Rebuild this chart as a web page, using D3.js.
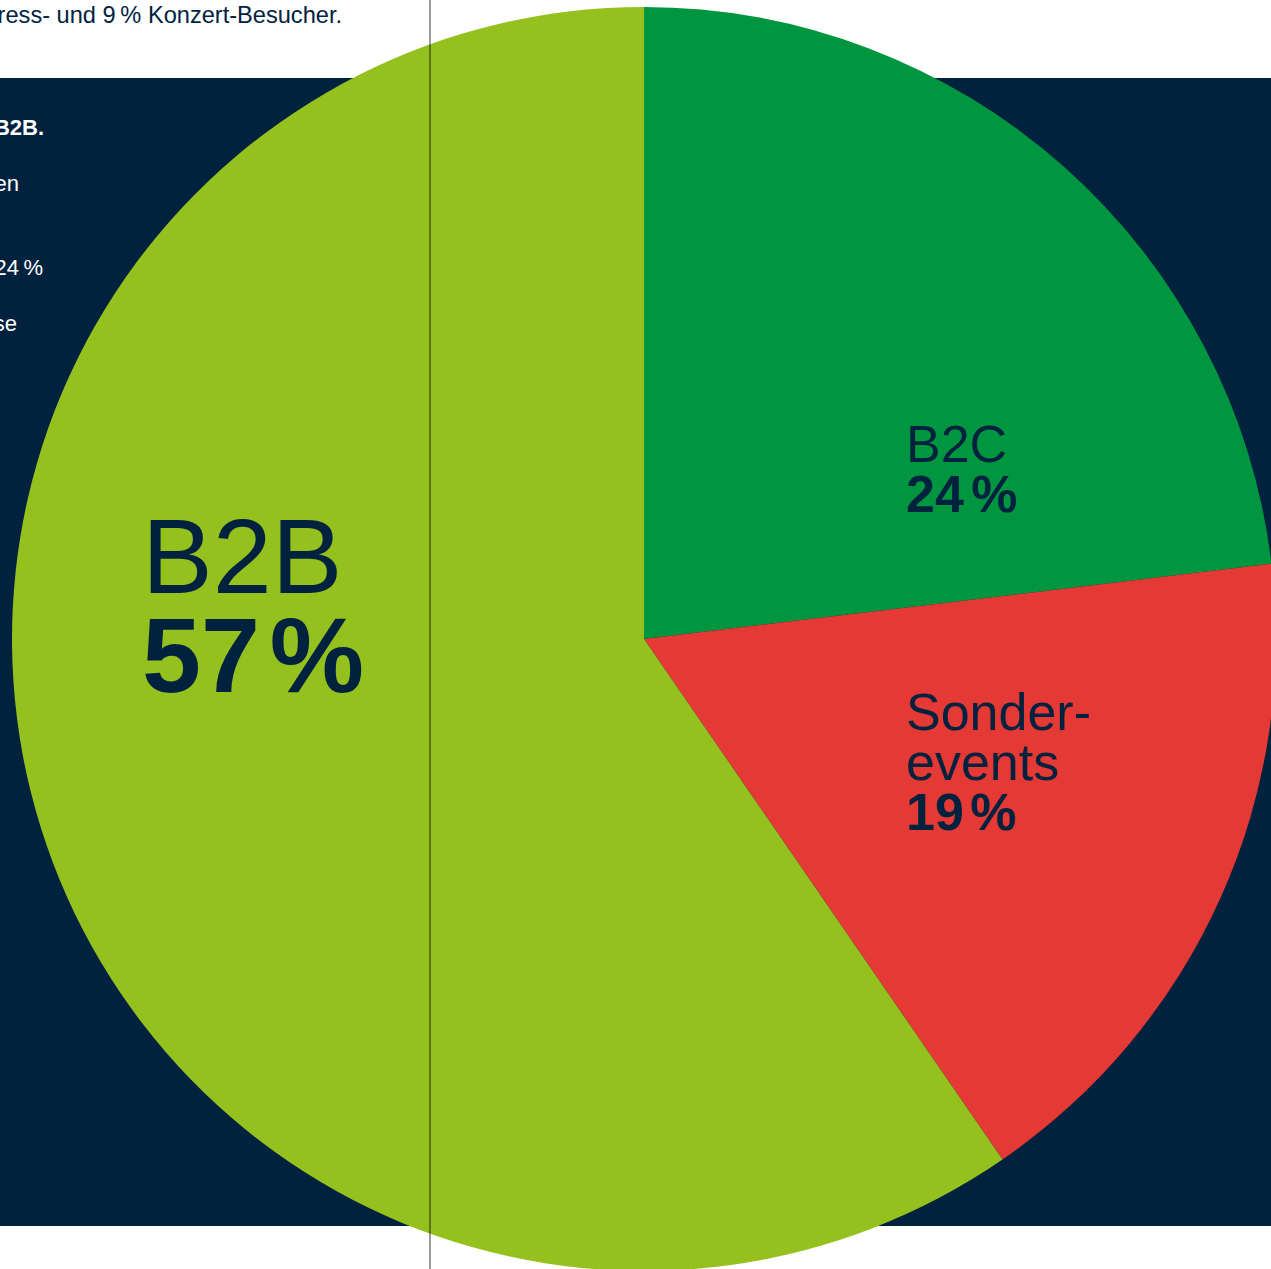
<!DOCTYPE html>
<html><head><meta charset="utf-8">
<script src="https://cdn.jsdelivr.net/npm/d3@7"></script>
<style>html,body{margin:0;padding:0;background:#fff;overflow:hidden}svg{display:block}</style>
</head><body>
<svg id="c" width="1271" height="1269"></svg>
<script>
// Segments (clockwise from 12 o'clock); arc shares as drawn in the picture
const categories = ["B2C", "Sonderevents", "B2B"];
const shares = [23.1, 17.3, 59.6];
const labelNames = [["B2C"], ["Sonder-", "events"], ["B2B"]];
const labelNumbers = ["24", "19", "57"];
const colors = ["#00963f", "#e53935", "#95c11f"];
const introTop = "Kongress- und 9\u2009% Konzert-Besucher.";
const introLines = ["B2B.", "en", "24\u2009%", "se"];

const W = 1271, H = 1269;
const svg = d3.select("#c");
const navy = "#00223f";

// background panel
svg.append("rect").attr("x", 0).attr("y", 78).attr("width", W).attr("height", 1148).attr("fill", navy);

// intro text (clipped at left edge)
svg.append("text").attr("x", 342).attr("y", 23).attr("text-anchor", "end")
  .attr("font-family", "Liberation Sans, Arial, sans-serif").attr("font-size", 23.6)
  .attr("fill", navy).text(introTop);
const introY = [135, 191, 275, 331];
const introX = [44, 19, 43, 17];
svg.selectAll("text.intro").data(introLines).join("text").attr("class", "intro")
  .attr("x", (d, i) => introX[i]).attr("y", (d, i) => introY[i]).attr("text-anchor", "end")
  .attr("font-family", "Liberation Sans, Arial, sans-serif").attr("font-size", 22)
  .attr("font-weight", (d, i) => i === 0 ? "bold" : "normal")
  .attr("fill", "#fff").text(d => d);

// pie
const cx = 644, cy = 639, R = 632;
const pie = d3.pie().sort(null).value(d => d)(shares);
const arc = d3.arc().innerRadius(0).outerRadius(R);
const g = svg.append("g").attr("transform", `translate(${cx},${cy})`);
g.selectAll("path").data(pie).join("path").attr("d", arc).attr("fill", (d, i) => colors[i]);

// labels
const labelPos = [
  {x: 906, y: 462, size: 52, lh: 50, gap: 3},
  {x: 906, y: 730, size: 52, lh: 50, gap: 2},
  {x: 142, y: 593, size: 106, lh: 99, gap: 1}
];
labelPos.forEach((p, i) => {
  const lines = labelNames[i];
  lines.forEach((t, j) => {
    svg.append("text").attr("x", p.x).attr("y", p.y + j * p.lh)
      .attr("font-family", "Liberation Sans, Arial, sans-serif").attr("font-size", p.size)
      .attr("fill", navy).text(t);
  });
  const t = svg.append("text").attr("x", p.x).attr("y", p.y + lines.length * p.lh)
    .attr("font-family", "Liberation Sans, Arial, sans-serif").attr("font-size", p.size)
    .attr("font-weight", "bold").attr("fill", navy);
  t.append("tspan").text(labelNumbers[i] + "\u200A");
  t.append("tspan").attr("dx", p.gap).text("%");
});

// vertical guide line
svg.append("line").attr("x1", 430).attr("x2", 430).attr("y1", 0).attr("y2", H)
  .attr("stroke", "#000").attr("stroke-opacity", 0.6).attr("stroke-width", 1.3);
</script>
</body></html>
